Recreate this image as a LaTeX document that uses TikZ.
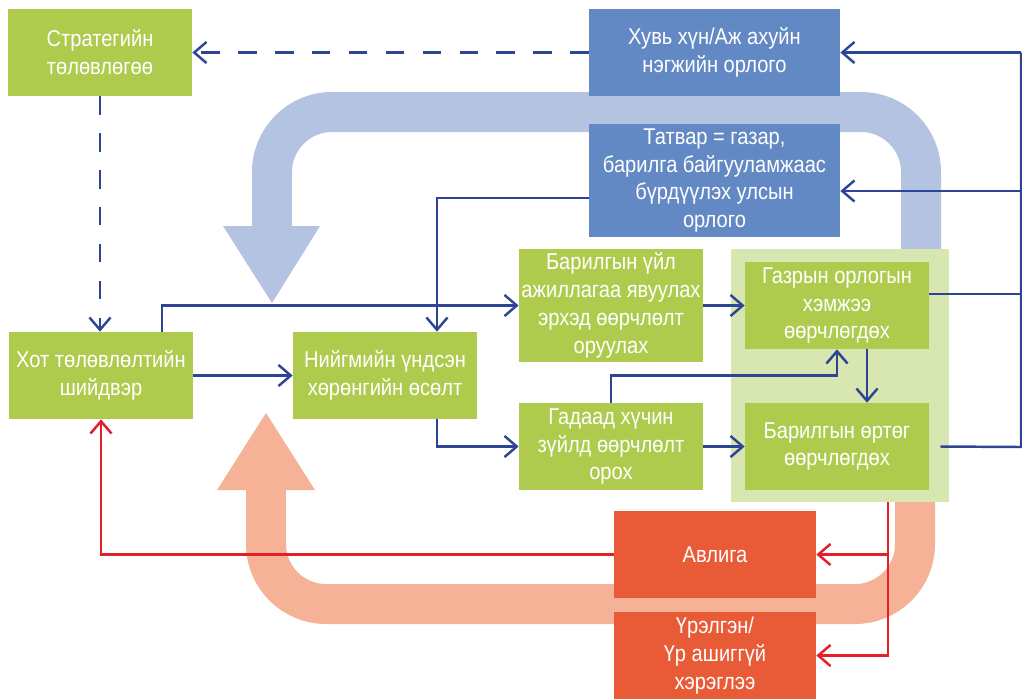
\documentclass[tikz,border=0pt]{standalone}
\usepackage{fontspec}
\setmainfont[FakeStretch=0.88]{Liberation Sans}
\usetikzlibrary{arrows.meta}
\definecolor{boxgreen}{HTML}{AFCB4E}
\definecolor{zonegreen}{HTML}{D8E6B2}
\definecolor{boxblue}{HTML}{6389C4}
\definecolor{bandblue}{HTML}{B4C3E2}
\definecolor{boxred}{HTML}{E95A37}
\definecolor{bandred}{HTML}{F5B297}
\definecolor{lineblue}{HTML}{2E4596}
\definecolor{linered}{HTML}{E3202A}

\begin{document}
\begin{tikzpicture}[x=0.02cm, y=-0.02cm,
        box/.style={fill=boxgreen, text=white, align=center, inner sep=0pt,
            minimum width=3.68cm, minimum height=1.74cm, font=\fontsize{13}{15.9}\selectfont},
        tallbox/.style={box, minimum height=2.26cm},
        bluebox/.style={box, fill=boxblue, minimum width=5.02cm},
        redbox/.style={box, fill=boxred, minimum width=4.04cm},
        link/.style={lineblue, line width=1.4pt},
        arr/.style={link, -{Straight Barb[length=7pt,width=12pt]}},
        hint/.style={arr, dash pattern=on 10.5pt off 10.5pt},
        redarr/.style={arr, linered},
        band/.style={line width=0.8cm, rounded corners=1.2cm}]
            \useasboundingbox (0,0) rectangle (1022,698);

            \draw[band, bandblue] (921,250) |- (272,112) -- (272,227);
            \fill[bandblue] (223,226) -- (320,226) -- (272,303) -- cycle;
            \draw[band, bandred] (915,500) |- (266,604) -- (266,489);
            \fill[bandred] (217,490) -- (315,490) -- (266,413) -- cycle;

            \node[fill=zonegreen, inner sep=0pt, minimum width=4.36cm, minimum height=5.06cm] (zone) at (840,375.5) {};

            \node[box] (strat) at (100,52.5) {Стратегийн\\төлөвлөгөө};
            \node[box] (hot) at (101,375.5) {Хот төлөвлөлтийн\\шийдвэр};
            \node[box] (niig) at (385,375.5) {Нийгмийн үндсэн\\хөрөнгийн өсөлт};
            \node[tallbox] (uil) at (611,305.5) {Барилгын үйл\\ажиллагаа явуулах\\эрхэд өөрчлөлт\\оруулах};
            \node[box] (gadaad) at (611,446.5) {Гадаад хүчин\\зүйлд өөрчлөлт\\орох};
            \node[box] (gazr) at (837,305.5) {Газрын орлогын\\хэмжээ\\өөрчлөгдөх};
            \node[box] (ortog) at (837,446.5) {Барилгын өртөг\\өөрчлөгдөх};
            \node[bluebox] (huvi) at (714.5,52.5) {Хувь хүн/Аж ахуйн\\нэгжийн орлого};
            \node[bluebox, minimum height=2.26cm] (tatvar) at (714.5,180.5) {Татвар = газар,\\барилга байгууламжаас\\бүрдүүлэх улсын\\орлого};
            \node[redbox] (avliga) at (715,554.5) {Авлига};
            \node[redbox] (urelgen) at (715,655.5) {Үрэлгэн/\\Үр ашиггүй\\хэрэглээ};

            \draw[hint] (huvi.west) -- (strat.east);
            \draw[hint] (strat.south) -- (strat.south |- hot.north);
            \draw[arr] (hot.east) -- (niig.west);
            \draw[arr] ([xshift=1.22cm]hot.north) |- (uil.west);
            \draw[arr] ([yshift=-0.35cm]tatvar.west) -| ([xshift=1.04cm]niig.north);
            \draw[arr] ([xshift=1.04cm]niig.south) |- (gadaad.west);
            \draw[arr] (uil.east) -- (gazr.west);
            \draw[arr] (gadaad.east) -- (ortog.west);
            \draw[arr] (gadaad.north) -- ++(0,-27) -| (gazr.south);
            \draw[arr] ([xshift=0.6cm]gazr.south) -- ([xshift=0.6cm]ortog.north);

            \coordinate (bustop) at (1021,52.5);
            \coordinate (busend) at (1021,447);
            \coordinate (gazout) at ([yshift=0.23cm]gazr.east);
            \coordinate (tatin) at ([yshift=-0.21cm]tatvar.east);
            \draw[link] ([xshift=0.22cm]ortog.east) -- (busend) -- (bustop);
            \draw[link] (gazout) -- (busend |- gazout);
            \draw[arr] (bustop) -- (huvi.east);
            \draw[arr] (busend |- tatin) -- (tatin);

            \coordinate (redsplit) at (888,502);
            \draw[redarr] (redsplit) |- (avliga.east);
            \draw[redarr] (redsplit) |- (urelgen.east);
            \draw[redarr] (avliga.west) -| (hot.south);
        \end{tikzpicture}
\end{document}
